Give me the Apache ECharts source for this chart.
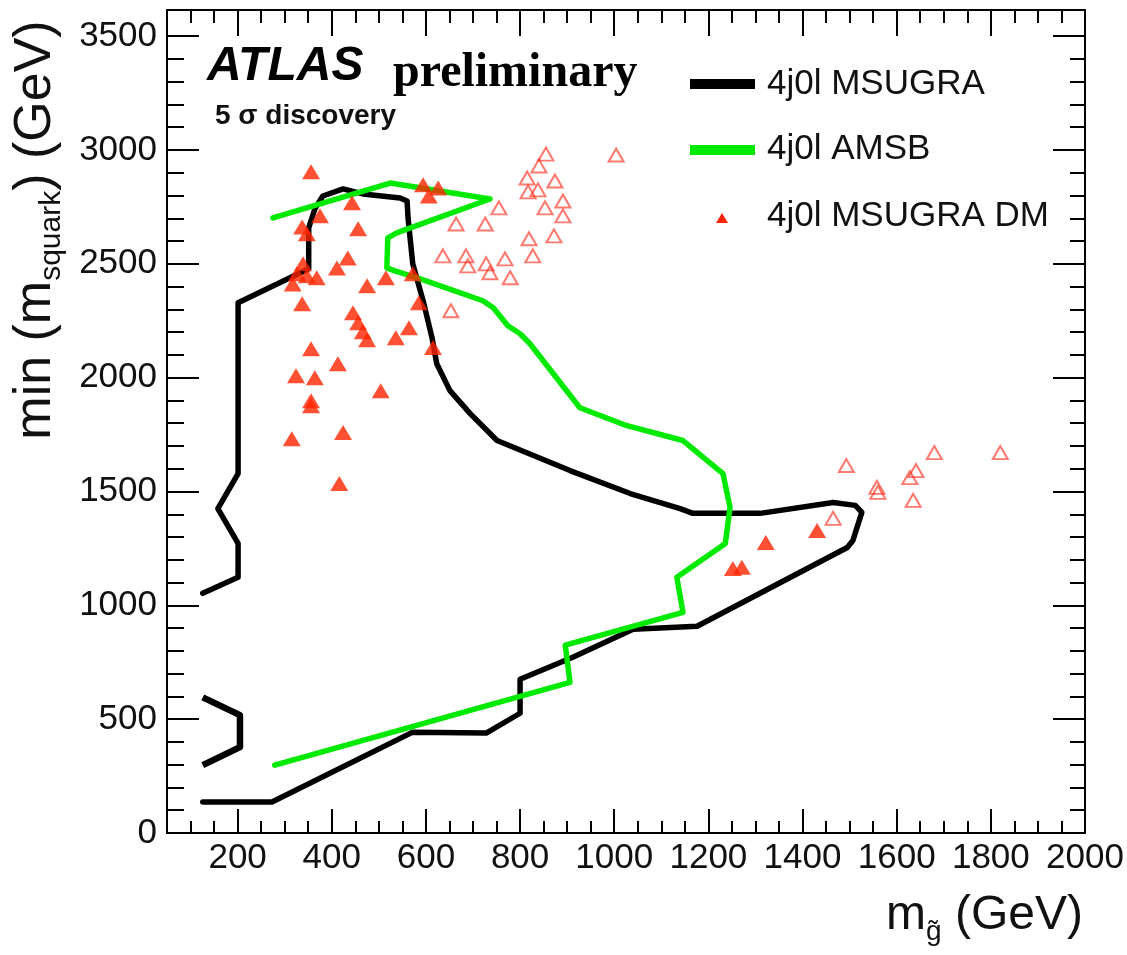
<!DOCTYPE html>
<html>
<head>
<meta charset="utf-8">
<script src="https://cdn.jsdelivr.net/npm/echarts@6/dist/echarts.min.js"></script>
<style>
  html, body { margin: 0; padding: 0; background: #ffffff; }
  #chart { width: 1127px; height: 955px; }
</style>
</head>
<body>
<div id="chart"></div>
<script>
// Axis tick positions (GeV)
const xMajorTicks = [200, 400, 600, 800, 1000, 1200, 1400, 1600, 1800, 2000];
const yMajorTicks = [0, 500, 1000, 1500, 2000, 2500, 3000, 3500];
function steps(from, to, step) {
  const out = [];
  for (let v = from; v <= to; v += step) out.push(v);
  return out;
}
const xMinorTicks = steps(100, 1950, 50);
const yMinorTicks = steps(100, 3500, 100);

// 4j0l MSUGRA 5 sigma discovery contour: [m_gluino, min(m_squark)]
const msugraContour = [
  [126, 1053], [201, 1123], [201, 1272], [158, 1425], [201, 1579], [201, 2329],
  [351, 2478], [351, 2658], [364, 2741], [381, 2798], [424, 2829], [466, 2807],
  [545, 2789], [560, 2776], [562, 2702], [572, 2500], [594, 2338], [613, 2175],
  [623, 2061], [651, 1943], [694, 1842], [751, 1724], [906, 1592], [1034, 1491],
  [1140, 1425], [1167, 1404], [1310, 1404], [1465, 1452], [1512, 1439], [1526, 1408],
  [1507, 1285], [1495, 1254], [1176, 908], [1040, 895], [912, 772], [800, 675],
  [800, 526], [728, 439], [572, 443], [273, 136], [126, 136]
];
// small separate piece of the same contour at low masses
const msugraIsland = [[126, 596], [205, 518], [205, 377], [126, 298]];

// 4j0l AMSB 5 sigma discovery contour
const amsbContour = [
  [275, 2702], [524, 2855], [630, 2820], [736, 2785], [538, 2636], [519, 2614],
  [517, 2482], [534, 2469], [588, 2434], [721, 2338], [743, 2307], [774, 2228],
  [800, 2193], [821, 2149], [927, 1868], [1027, 1789], [1146, 1724], [1231, 1579],
  [1246, 1430], [1236, 1272], [1133, 1123], [1146, 969], [896, 825], [906, 662],
  [279, 298]
];

// 4j0l MSUGRA DM points, discovered (filled)
const dmDiscovered = [
  [356, 2904], [594, 2847], [606, 2798], [626, 2833], [443, 2768], [375, 2711],
  [337, 2662], [347, 2632], [456, 2654], [434, 2526], [411, 2482], [326, 2456],
  [368, 2439], [347, 2448], [317, 2412], [475, 2404], [515, 2439], [572, 2456],
  [337, 2325], [585, 2329], [445, 2285], [456, 2241], [466, 2202], [475, 2167],
  [536, 2175], [564, 2219], [615, 2132], [356, 2127], [413, 2061], [324, 2009],
  [364, 2000], [504, 1943], [356, 1899], [356, 1877], [424, 1759], [315, 1732],
  [416, 1535], [339, 2500], [1252, 1162], [1271, 1167], [1322, 1276], [1431, 1329]
];
// 4j0l MSUGRA DM points, not discovered (open)
const dmNotDiscovered = [
  [1004, 2978], [855, 2982], [840, 2930], [815, 2877], [817, 2816], [838, 2825],
  [874, 2864], [853, 2746], [891, 2776], [891, 2711], [872, 2623], [819, 2610],
  [827, 2535], [755, 2746], [726, 2675], [664, 2675], [636, 2535], [685, 2535],
  [689, 2491], [728, 2500], [736, 2461], [768, 2522], [779, 2439], [653, 2294],
  [1465, 1382], [1493, 1614], [1558, 1518], [1560, 1496], [1628, 1561], [1641, 1592],
  [1635, 1461], [1680, 1671], [1820, 1671]
];

const X_MIN = 50, X_MAX = 2000, Y_MIN = 0, Y_MAX = 3615;
const FONT = '"Liberation Sans", Arial, Helvetica, sans-serif';
const BLACK = '#000000';
const GREEN = '#00ea00';
const RED = '#ff2400';
const plainNumber = function (v) { return String(v); };

function xAxisDef(position, ticks, length, withLabels, showLine) {
  return {
    type: 'value', position: position, min: X_MIN, max: X_MAX,
    axisLine: { show: showLine, onZero: false, lineStyle: { color: BLACK, width: 2 } },
    axisTick: { show: true, inside: true, length: length, customValues: ticks,
                lineStyle: { color: BLACK, width: 2 } },
    axisLabel: withLabels ? { show: true, customValues: xMajorTicks, formatter: plainNumber,
                fontSize: 35, fontFamily: FONT, color: '#111', margin: 8 } : { show: false },
    splitLine: { show: false }
  };
}
function yAxisDef(position, ticks, length, withLabels, showLine) {
  return {
    type: 'value', position: position, min: Y_MIN, max: Y_MAX,
    axisLine: { show: showLine, onZero: false, lineStyle: { color: BLACK, width: 2 } },
    axisTick: { show: true, inside: true, length: length, customValues: ticks,
                lineStyle: { color: BLACK, width: 2 } },
    axisLabel: withLabels ? { show: true, customValues: yMajorTicks, formatter: plainNumber,
                fontSize: 35, fontFamily: FONT, color: '#111', margin: 10 } : { show: false },
    splitLine: { show: false }
  };
}

const chart = echarts.init(document.getElementById('chart'), null, { renderer: 'canvas' });

const option = {
  animation: false,
  backgroundColor: '#ffffff',
  grid: { left: 167, right: 42, top: 10, bottom: 122, containLabel: false },
  xAxis: [
    xAxisDef('bottom', xMajorTicks, 24, true, true),
    xAxisDef('bottom', xMinorTicks, 12, false, false),
    xAxisDef('top', xMajorTicks, 26, false, true),
    xAxisDef('top', xMinorTicks, 13, false, false)
  ],
  yAxis: [
    yAxisDef('left', yMajorTicks, 32, true, true),
    yAxisDef('left', yMinorTicks, 17, false, false),
    yAxisDef('right', yMajorTicks, 32, false, true),
    yAxisDef('right', yMinorTicks, 15, false, false)
  ],
  series: [
    {
      name: '4j0l MSUGRA', type: 'line', xAxisIndex: 0, yAxisIndex: 0,
      data: msugraContour, symbol: 'none', z: 2,
      lineStyle: { color: BLACK, width: 5.5, join: 'round', cap: 'round' }
    },
    {
      name: '4j0l MSUGRA', type: 'line', xAxisIndex: 0, yAxisIndex: 0,
      data: msugraIsland, symbol: 'none', z: 2,
      lineStyle: { color: BLACK, width: 6.5, join: 'round' }
    },
    {
      name: '4j0l AMSB', type: 'line', xAxisIndex: 0, yAxisIndex: 0,
      data: amsbContour, symbol: 'none', z: 3,
      lineStyle: { color: GREEN, width: 5.5, join: 'round', cap: 'round' }
    },
    {
      name: 'not discovered', type: 'scatter', xAxisIndex: 0, yAxisIndex: 0,
      data: dmNotDiscovered, symbol: 'triangle', symbolSize: [15, 13], z: 4,
      itemStyle: { color: 'rgba(255,255,255,0)', borderColor: 'rgba(255,45,30,0.8)', borderWidth: 2 }
    },
    {
      name: '4j0l MSUGRA DM', type: 'scatter', xAxisIndex: 0, yAxisIndex: 0,
      data: dmDiscovered, symbol: 'triangle', symbolSize: [18, 15], z: 5,
      itemStyle: { color: RED }
    }
  ],
  graphic: [
    { type: 'text', x: 207, y: 67, z: 10,
      style: { text: 'ATLAS', font: 'italic bold 48px ' + FONT, fill: BLACK, align: 'left', verticalAlign: 'middle' } },
    { type: 'text', x: 393, y: 74, z: 10,
      style: { text: 'preliminary', font: 'bold 48px "Liberation Serif", "Times New Roman", serif', fill: BLACK, align: 'left', verticalAlign: 'middle' } },
    { type: 'text', x: 215, y: 116, z: 10,
      style: { text: '5 σ discovery', font: 'bold 28px ' + FONT, fill: '#111', align: 'left', verticalAlign: 'middle' } },

    // legend
    { type: 'rect', z: 10, shape: { x: 690, y: 79, width: 65, height: 10 }, style: { fill: BLACK } },
    { type: 'text', x: 767, y: 84, z: 10,
      style: { text: '4j0l MSUGRA', font: '35px ' + FONT, fill: '#111', align: 'left', verticalAlign: 'middle' } },
    { type: 'rect', z: 10, shape: { x: 690, y: 145, width: 65, height: 10 }, style: { fill: GREEN } },
    { type: 'text', x: 767, y: 149, z: 10,
      style: { text: '4j0l AMSB', font: '35px ' + FONT, fill: '#111', align: 'left', verticalAlign: 'middle' } },
    { type: 'polygon', z: 10, shape: { points: [[716, 223], [728, 223], [722, 213]] }, style: { fill: RED } },
    { type: 'text', x: 767, y: 216, z: 10,
      style: { text: '4j0l MSUGRA DM', font: '35px ' + FONT, fill: '#111', align: 'left', verticalAlign: 'middle' } },

    // axis titles
    { type: 'text', x: 1083, y: 916, z: 10,
      style: {
        text: 'm{sub|g̃} (GeV)', fontSize: 48, fontFamily: FONT, fill: '#111',
        align: 'right', verticalAlign: 'middle',
        rich: {
          sub: { fontSize: 28, fontFamily: FONT, fill: '#111', lineHeight: 28, padding: [26, 0, 0, 0], verticalAlign: 'top' }
        }
      } },
    { type: 'text', x: 36, y: 230, rotation: Math.PI / 2, z: 10,
      style: {
        text: 'min (m{sub|squark}) (GeV)', fontSize: 52, fontFamily: FONT, fill: '#111',
        align: 'center', verticalAlign: 'middle',
        rich: {
          sub: { fontSize: 30, fontFamily: FONT, fill: '#111', lineHeight: 30, padding: [27, 0, 0, 0], verticalAlign: 'top' }
        }
      } }
  ]
};

chart.setOption(option);
</script>
</body>
</html>
